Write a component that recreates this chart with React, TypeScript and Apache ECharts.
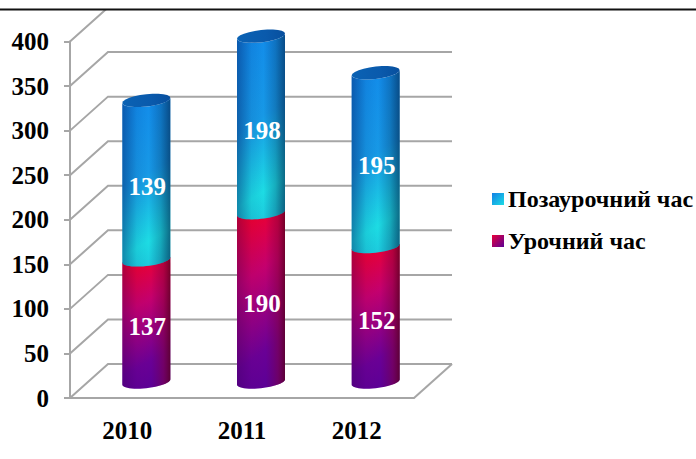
import React, { useEffect, useRef } from "react";
import * as echarts from "echarts";

const years = ["2010", "2011", "2012"];
const yTicks = [0, 50, 100, 150, 200, 250, 300, 350, 400];
const lessonHours = [137, 190, 152];
const afterHours = [179, 198, 195]; // plotted height
const lessonLabels = ["137", "190", "152"];
const afterLabels = ["139", "198", "195"];
const afterName = "Позаурочний час";
const lessonName = "Урочний час";

const FONT = '"Liberation Serif", serif';
const DX = 38, DY = 34;
const A = 24, B = 6.2, S = 2.6;

const edge = (cx: number, cy: number, from: number, to: number) => {
  const pts: number[][] = [];
  for (let i = 0; i <= 24; i++) {
    const t = from + ((to - from) * i) / 24;
    pts.push([cx + A * Math.cos(t), cy + B * Math.sin(t) - S * Math.cos(t)]);
  }
  return pts;
};

const lin = (x: number, y: number, x2: number, y2: number, stops: [number, string][]) =>
  new echarts.graphic.LinearGradient(x, y, x2, y2, stops.map(([offset, color]) => ({ offset, color })));

const blueShade = () =>
  lin(0, 0, 1, 0, [
    [0, "rgba(0,20,90,0.42)"],
    [0.3, "rgba(0,20,90,0.08)"],
    [0.55, "rgba(0,20,90,0)"],
    [0.8, "rgba(0,30,70,0.25)"],
    [1, "rgba(0,30,70,0.6)"],
  ]);
const redShade = () =>
  lin(0, 0, 1, 0, [
    [0, "rgba(50,0,90,0.35)"],
    [0.3, "rgba(50,0,90,0.05)"],
    [0.6, "rgba(120,0,70,0)"],
    [0.85, "rgba(130,0,50,0.45)"],
    [1, "rgba(90,0,30,0.8)"],
  ]);

const blueFill = () => lin(0.42, 0, 0.58, 1, [[0, "#128ceb"], [0.45, "#1799e6"], [0.85, "#1ddce4"], [1, "#1ccadd"]]);
const redFill = () => lin(0.35, 0, 0.55, 1, [[0, "#f0002a"], [0.35, "#c4006e"], [0.8, "#6a0096"], [1, "#5c0096"]]);

const cylinder = (isTop: boolean) => (params: any, api: any) => {
  const idx = api.value(0);
  const base = api.coord([idx, api.value(1)]);
  const top = api.coord([idx, api.value(2)]);
  const cx = base[0] + DX / 2;
  const y0 = base[1] - DY / 2 + 1;
  const y1 = top[1] - DY / 2 + 1;
  const bottomArc = edge(cx, y0, Math.PI, 0);
  const topArc = isTop ? edge(cx, y1, 0, Math.PI) : [[cx + A, y1 - S], [cx - A, y1 + S]];
  const points = [...topArc, ...bottomArc];
  const children: any[] = [
    { type: "polygon", shape: { points }, style: { fill: isTop ? blueFill() : redFill() } },
    { type: "polygon", shape: { points }, style: { fill: isTop ? blueShade() : redShade() } },
  ];
  if (isTop) {
    children.push({
      type: "polygon",
      shape: { points: edge(cx, y1, 0, Math.PI * 2) },
      style: { fill: lin(0, 0, 1, 0, [[0, "#0a62b4"], [0.6, "#0a5aac"], [1, "#074f9e"]]) },
    });
  }
  children.push({
    type: "text",
    style: {
      x: cx + 1,
      y: (y0 + y1) / 2 + 6,
      text: api.value(3),
      fill: "#ffffff",
      font: `bold 25px ${FONT}`,
      align: "center",
      verticalAlign: "middle",
    },
  });
  return { type: "group", children };
};

const wall = (params: any, api: any) => {
  const cs = params.coordSys;
  const v = api.value(0);
  const [, y] = api.coord([0, v]);
  const left = cs.x;
  const right = cs.x + cs.width;
  const style = { stroke: "#a6a6a6", lineWidth: 2, fill: "none" };
  const children: any[] = [
    { type: "polyline", shape: { points: [[left, y], [left + DX, y - DY], [right + DX, y - DY]] }, style },
  ];
  if (v === 0) {
    children.push({ type: "polyline", shape: { points: [[right, y], [right + DX, y - DY]] }, style });
  }
  return { type: "group", children };
};

const stackData = (own: number[], below: number[] | null, labels: string[]) =>
  own.map((v, i) => {
    const b = below ? below[i] : 0;
    return [i, b, b + v, labels[i]];
  });

export default function App() {
  const ref = useRef<HTMLDivElement>(null);
  useEffect(() => {
    const chart = echarts.init(ref.current!, null, { renderer: "svg" });
    chart.setOption({
      animation: false,
      backgroundColor: "#ffffff",
      grid: { left: 70, top: 41.5, width: 344, height: 356.5 },
      xAxis: {
        type: "category",
        data: years,
        axisLine: { lineStyle: { color: "#a6a6a6", width: 2 } },
        axisTick: { length: 9, lineStyle: { color: "#a6a6a6", width: 2 } },
        axisLabel: { color: "#000", fontFamily: FONT, fontWeight: "bold", fontSize: 25, margin: 20 },
      },
      yAxis: {
        type: "value",
        min: 0,
        max: 400,
        interval: 50,
        axisLine: { show: true, lineStyle: { color: "#a6a6a6", width: 2 } },
        axisTick: { show: true, length: 6, lineStyle: { color: "#a6a6a6", width: 2 } },
        splitLine: { show: false },
        axisLabel: { color: "#000", fontFamily: FONT, fontWeight: "bold", fontSize: 25, margin: 21, padding: [3, 0, 0, 0] },
      },
      legend: {
        left: 487,
        top: 182,
        orient: "vertical",
        data: [afterName, lessonName],
        icon: "rect",
        itemWidth: 12,
        itemHeight: 12,
        itemGap: 18,
        textStyle: { color: "#000", fontFamily: FONT, fontWeight: "bold", fontSize: 24, padding: [0, 0, 0, -1] },
        selectedMode: false,
      },
      graphic: [
        { type: "rect", z: 100, shape: { x: 0, y: 0, width: 696, height: 9 }, style: { fill: "#fff" } },
        { type: "rect", z: 101, shape: { x: 0, y: 8.5, width: 696, height: 2 }, style: { fill: "#111" } },
      ],
      series: [
        {
          type: "custom",
          name: "wall",
          silent: true,
          clip: false,
          renderItem: wall,
          data: yTicks.map((t) => [t]),
          encode: { y: 0 },
        },
        {
          type: "custom",
          name: lessonName,
          clip: false,
          renderItem: cylinder(false),
          itemStyle: { color: lin(0, 0, 1, 1, [[0, "#e8003a"], [1, "#5c0096"]]) },
          data: stackData(lessonHours, null, lessonLabels),
          encode: { x: 0, y: 2 },
        },
        {
          type: "custom",
          name: afterName,
          clip: false,
          renderItem: cylinder(true),
          itemStyle: { color: lin(0, 0, 1, 1, [[0, "#1280e6"], [1, "#1ddce4"]]) },
          data: stackData(afterHours, lessonHours, afterLabels),
          encode: { x: 0, y: 2 },
        },
      ],
    });
    return () => chart.dispose();
  }, []);
  return <div ref={ref} style={{ position: "fixed", left: 0, top: 0, width: 696, height: 459 }} />;
}
